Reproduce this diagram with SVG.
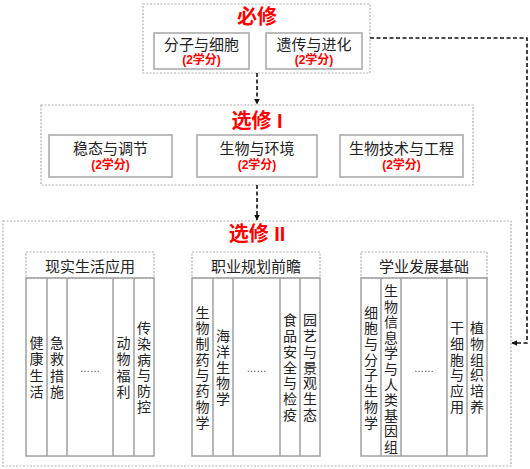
<svg xmlns="http://www.w3.org/2000/svg" width="530" height="469" viewBox="0 0 530 469">
<style>
.outer{fill:#fff;stroke:#b0b0b0;stroke-width:1.2;stroke-dasharray:2,1.5}
.box{fill:#fff;stroke:#a6a6a6;stroke-width:1.5}
.hdr{fill:#fff;stroke:#b0b0b0;stroke-width:1.2;stroke-dasharray:2,1.5}
.col{fill:none;stroke:#a0a0a0;stroke-width:1.5}
.title{font-family:"Liberation Sans","Noto Sans CJK SC",sans-serif;font-size:20px;font-weight:bold;fill:#ff0000;text-anchor:middle}
.name{font-family:"Liberation Sans","Noto Sans CJK SC",sans-serif;font-size:15px;fill:#222;text-anchor:middle}
.credit{font-family:"Liberation Sans","Noto Sans CJK SC",sans-serif;font-size:12px;font-weight:bold;fill:#ff0000;text-anchor:middle}
.v{font-family:"Liberation Sans","Noto Sans CJK SC",sans-serif;font-size:14px;fill:#222;text-anchor:middle}
.dots{font-family:"Liberation Sans",sans-serif;font-size:10px;fill:#444;text-anchor:middle}
.conn{fill:none;stroke:#111;stroke-width:1.6;stroke-dasharray:4,2.5}
</style>
<defs>
<marker id="arr" viewBox="0 0 10 10" refX="9" refY="5" markerWidth="6" markerHeight="6" orient="auto" markerUnits="userSpaceOnUse">
<path d="M0,0 L10,5 L0,10 z" fill="#111"/>
</marker>
</defs>

<g id="bixiu">
<rect class="outer" x="143" y="4" width="227" height="69"/>
<text class="title" x="257" y="24">必修</text>
<g id="fenzi">
<rect class="box" x="154" y="33" width="95" height="36"/>
<text class="name" x="201.5" y="50">分子与细胞</text>
<text class="credit" x="201.5" y="64">(2学分)</text>
</g>
<g id="yichuan">
<rect class="box" x="266" y="33" width="96" height="36"/>
<text class="name" x="314" y="50">遗传与进化</text>
<text class="credit" x="314" y="64">(2学分)</text>
</g>
</g>

<g id="xuanxiu1">
<rect class="outer" x="41" y="105" width="432" height="80"/>
<text class="title" x="257" y="128">选修 I</text>
<g id="wentai">
<rect class="box" x="49" y="135" width="123" height="42"/>
<text class="name" x="110.5" y="154">稳态与调节</text>
<text class="credit" x="110.5" y="169">(2学分)</text>
</g>
<g id="huanjing">
<rect class="box" x="197" y="135" width="120" height="42"/>
<text class="name" x="257" y="154">生物与环境</text>
<text class="credit" x="257" y="169">(2学分)</text>
</g>
<g id="jishu">
<rect class="box" x="340" y="135" width="123" height="42"/>
<text class="name" x="401.5" y="154">生物技术与工程</text>
<text class="credit" x="401.5" y="169">(2学分)</text>
</g>
</g>

<g id="xuanxiu2">
<rect class="outer" x="3" y="221" width="508" height="245"/>
<text class="title" x="257" y="241">选修 II</text>

<g id="xianshi">
<rect class="hdr" x="26" y="252" width="128" height="26"/>
<text class="name" x="90" y="271.5">现实生活应用</text>
<rect class="col" x="26" y="278" width="128" height="178"/>
<path class="col" d="M47,278V456M67,278V456M113,278V456M134,278V456"/>
<text class="v" x="36.5"><tspan x="36.5" y="347.8">健</tspan><tspan x="36.5" y="364.3">康</tspan><tspan x="36.5" y="380.8">生</tspan><tspan x="36.5" y="397.3">活</tspan></text>
<text class="v" x="57"><tspan x="57" y="347.8">急</tspan><tspan x="57" y="364.3">救</tspan><tspan x="57" y="380.8">措</tspan><tspan x="57" y="397.3">施</tspan></text>
<text class="dots" x="90" y="372">……</text>
<text class="v" x="123.5"><tspan x="123.5" y="347.8">动</tspan><tspan x="123.5" y="364.3">物</tspan><tspan x="123.5" y="380.8">福</tspan><tspan x="123.5" y="397.3">利</tspan></text>
<text class="v" x="144"><tspan x="144" y="333.3">传</tspan><tspan x="144" y="349">染</tspan><tspan x="144" y="364.7">病</tspan><tspan x="144" y="380.4">与</tspan><tspan x="144" y="396.1">防</tspan><tspan x="144" y="411.8">控</tspan></text>
</g>

<g id="zhiye">
<rect class="hdr" x="192" y="252" width="128" height="26"/>
<text class="name" x="256" y="271.5">职业规划前瞻</text>
<rect class="col" x="192" y="278" width="128" height="178"/>
<path class="col" d="M213,278V456M233,278V456M280,278V456M300,278V456"/>
<text class="v" x="202.5"><tspan x="202.5" y="317.6">生</tspan><tspan x="202.5" y="333.3">物</tspan><tspan x="202.5" y="349">制</tspan><tspan x="202.5" y="364.7">药</tspan><tspan x="202.5" y="380.4">与</tspan><tspan x="202.5" y="396.1">药</tspan><tspan x="202.5" y="411.8">物</tspan><tspan x="202.5" y="427.5">学</tspan></text>
<text class="v" x="223"><tspan x="223" y="341.1">海</tspan><tspan x="223" y="356.8">洋</tspan><tspan x="223" y="372.5">生</tspan><tspan x="223" y="388.2">物</tspan><tspan x="223" y="403.9">学</tspan></text>
<text class="dots" x="256.5" y="372">……</text>
<text class="v" x="290"><tspan x="290" y="325.4">食</tspan><tspan x="290" y="341.1">品</tspan><tspan x="290" y="356.8">安</tspan><tspan x="290" y="372.5">全</tspan><tspan x="290" y="388.2">与</tspan><tspan x="290" y="403.9">检</tspan><tspan x="290" y="419.6">疫</tspan></text>
<text class="v" x="310"><tspan x="310" y="325.4">园</tspan><tspan x="310" y="341.1">艺</tspan><tspan x="310" y="356.8">与</tspan><tspan x="310" y="372.5">景</tspan><tspan x="310" y="388.2">观</tspan><tspan x="310" y="403.9">生</tspan><tspan x="310" y="419.6">态</tspan></text>
</g>

<g id="xueye">
<rect class="hdr" x="361" y="252" width="126" height="26"/>
<text class="name" x="424" y="271.5">学业发展基础</text>
<rect class="col" x="361" y="278" width="126" height="178"/>
<path class="col" d="M381,278V456M401,278V456M447,278V456M467,278V456"/>
<text class="v" x="371"><tspan x="371" y="317.6">细</tspan><tspan x="371" y="333.3">胞</tspan><tspan x="371" y="349">与</tspan><tspan x="371" y="364.7">分</tspan><tspan x="371" y="380.4">子</tspan><tspan x="371" y="396.1">生</tspan><tspan x="371" y="411.8">物</tspan><tspan x="371" y="427.5">学</tspan></text>
<text class="v" x="391"><tspan x="391" y="296">生</tspan><tspan x="391" y="311.6">物</tspan><tspan x="391" y="327.2">信</tspan><tspan x="391" y="342.8">息</tspan><tspan x="391" y="358.4">学</tspan><tspan x="391" y="374">与</tspan><tspan x="391" y="389.6">人</tspan><tspan x="391" y="405.2">类</tspan><tspan x="391" y="420.8">基</tspan><tspan x="391" y="436.4">因</tspan><tspan x="391" y="452">组</tspan></text>
<text class="dots" x="424" y="372">……</text>
<text class="v" x="457"><tspan x="457" y="333.3">干</tspan><tspan x="457" y="349">细</tspan><tspan x="457" y="364.7">胞</tspan><tspan x="457" y="380.4">与</tspan><tspan x="457" y="396.1">应</tspan><tspan x="457" y="411.8">用</tspan></text>
<text class="v" x="477"><tspan x="477" y="333.3">植</tspan><tspan x="477" y="349">物</tspan><tspan x="477" y="364.7">组</tspan><tspan x="477" y="380.4">织</tspan><tspan x="477" y="396.1">培</tspan><tspan x="477" y="411.8">养</tspan></text>
</g>
</g>

<g id="connectors">
<path class="conn" d="M257,73V104" marker-end="url(#arr)"/>
<path class="conn" d="M257,185V220" marker-end="url(#arr)"/>
<path class="conn" d="M370,38H527V343H512" marker-end="url(#arr)"/>
</g>
</svg>
